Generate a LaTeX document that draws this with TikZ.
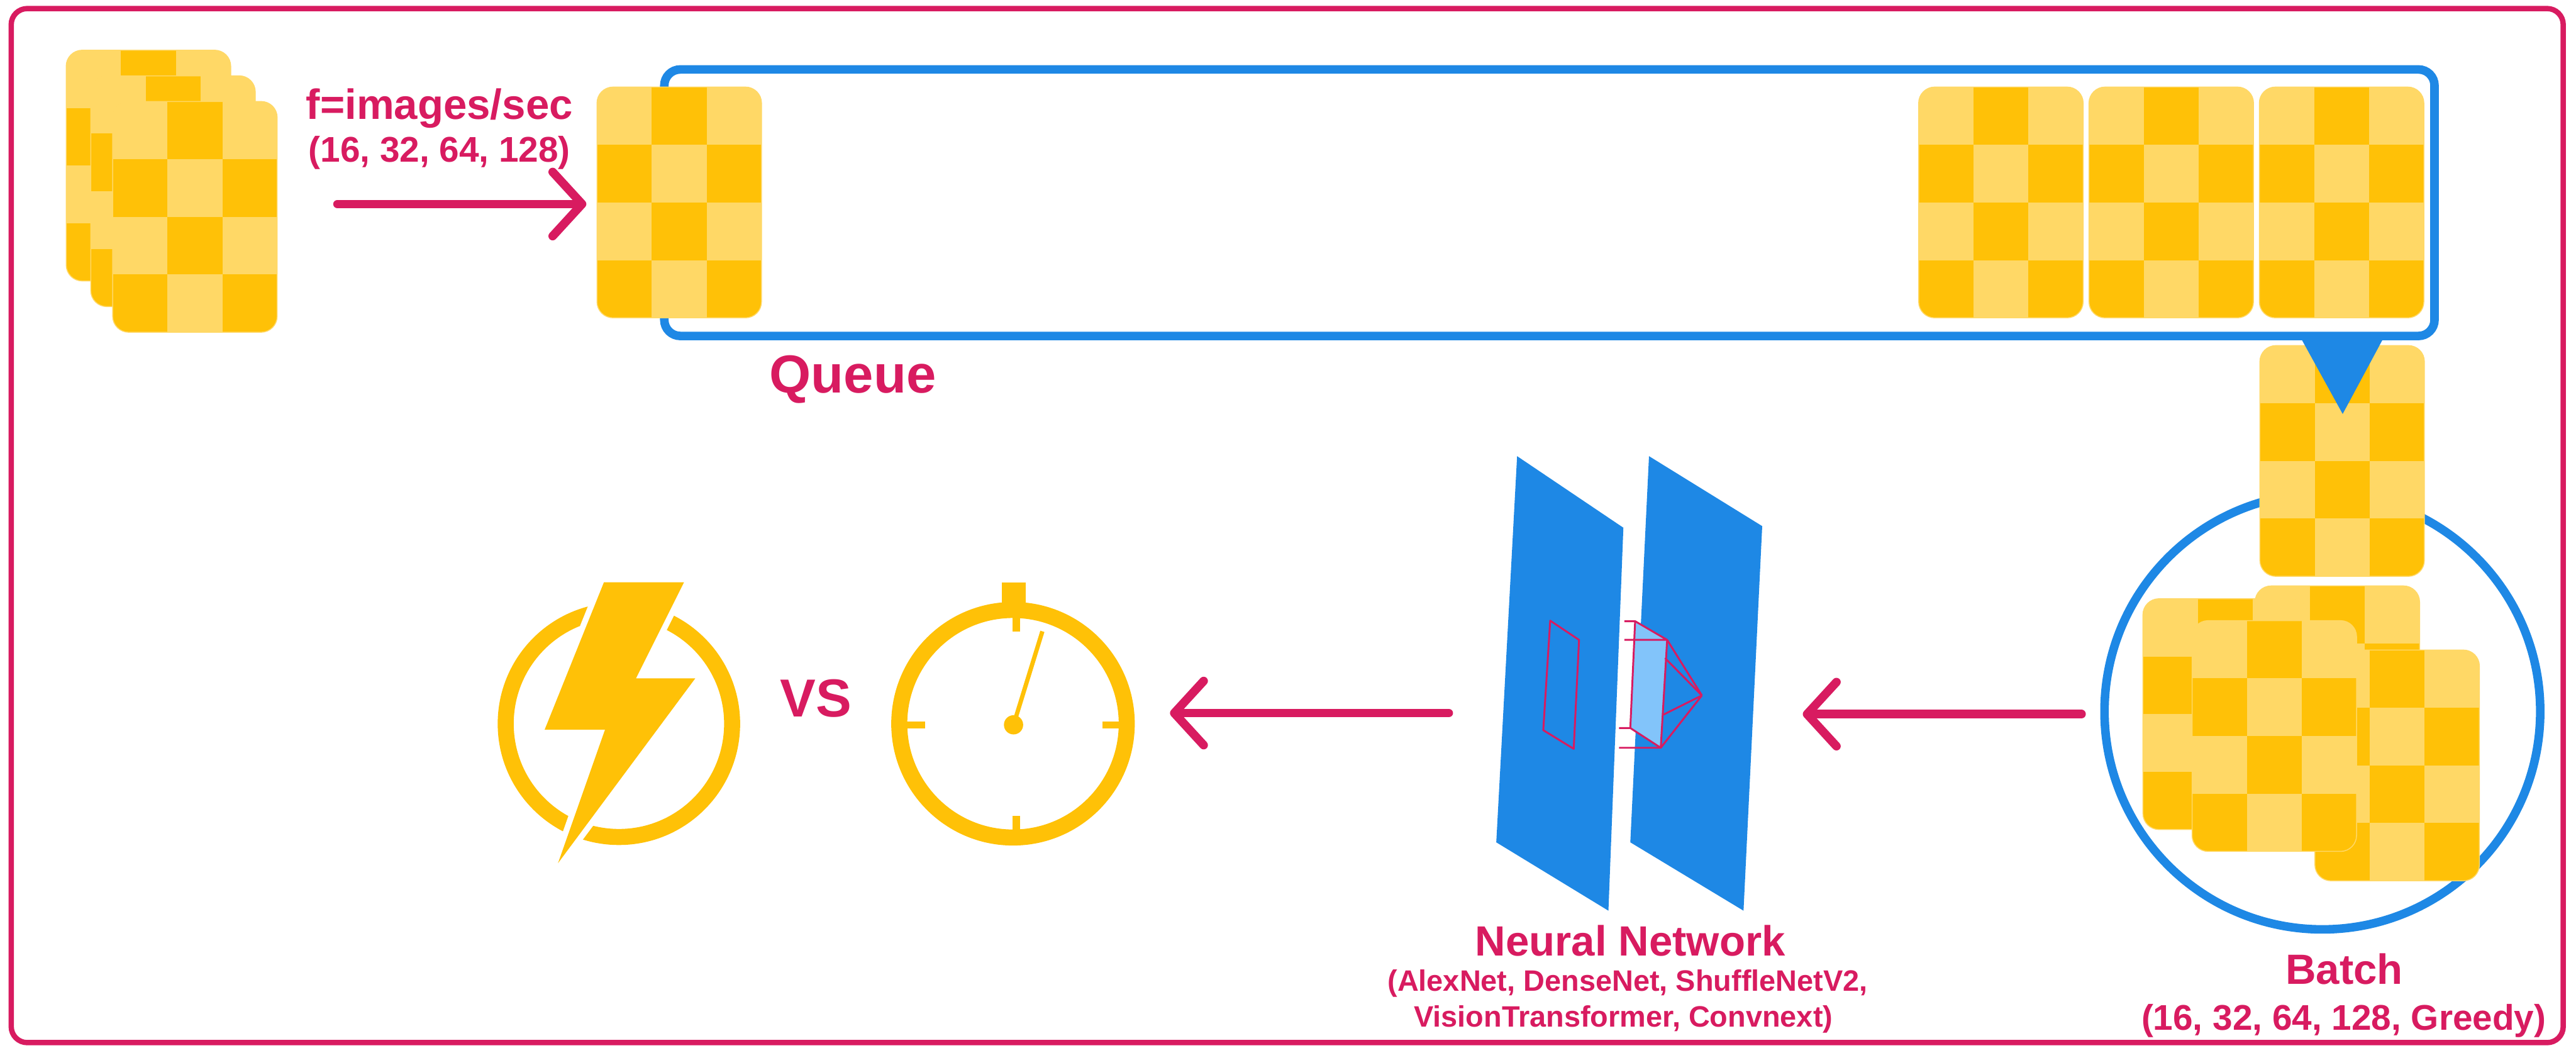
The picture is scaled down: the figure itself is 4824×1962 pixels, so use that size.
\documentclass[tikz,border=0pt]{standalone}
\usepackage{fontspec}
\setmainfont{Liberation Sans}
\usepackage{tikz}
\usetikzlibrary{arrows.meta}
\tikzset{
  txt/.style = {inner sep=0pt, text=my_pink, anchor=base},
  flow/.style = {draw=my_pink, line width=1.6mm, line cap=round,
    -{Straight Barb[length=5.5mm, width=12mm, line cap=round, line join=round]}},
  wire/.style = {draw=my_pink, line width=0.35mm, line join=round},
  ring/.style = {draw=my_amber, line width=3mm}
}
\definecolor{my_amber}{RGB}{255, 193, 7}
\definecolor{my_amber_light}{RGB}{255, 216, 102}
\definecolor{my_blue}{RGB}{30, 136, 229}
\definecolor{my_blue_light}{RGB}{130, 196, 250}
\definecolor{my_pink}{RGB}{216, 27, 96}

% checkered image card: name, top-left x, top-left y
\newcommand{\imgcard}[3]{%
  \coordinate (#1) at (#2,#3);
  \begin{scope}
    \clip[rounded corners=3mm] (#1) rectangle ++(308,432);
    \fill[my_amber] (#1) rectangle ++(308,432);
    \foreach \i/\j in {0/0,2/0,1/1,0/2,2/2,1/3}
      \fill[my_amber_light, shift={(#1)}] (\i*102.67,\j*108) rectangle ++(102.67,108);
  \end{scope}
  \draw[my_amber_light, line width=0.5pt, rounded corners=3mm] (#1) rectangle ++(308,432);
}

\begin{document}
\begin{tikzpicture}[x=0.01cm, y=-0.01cm,
        f_big/.style={font=\bfseries\fontsize{28.5pt}{32pt}\selectfont},
        f_mid/.style={font=\bfseries\fontsize{22.5pt}{26pt}\selectfont},
        f_small/.style={font=\bfseries\fontsize{19pt}{22pt}\selectfont},
        f_tiny/.style={font=\bfseries\fontsize{15.7pt}{19pt}\selectfont}]
  \useasboundingbox (0,0) rectangle (4824,1962);
  \fill[white] (0,0) rectangle (4824,1962);

  % outer frame
  \draw[my_pink, line width=1mm, rounded corners=3mm] (21,16) rectangle (4800,1952);

  % incoming images
  \imgcard{in_a}{124}{94}
  \imgcard{in_b}{170}{142}
  \imgcard{in_c}{211}{190}

  % queue
  \draw[my_blue, line width=1.6mm, rounded corners=3mm] (1244,130) rectangle (4559,629);
  \imgcard{q_first}{1118}{163}
  \imgcard{q_a}{3593}{163}
  \imgcard{q_b}{3912}{163}
  \imgcard{q_c}{4231}{163}

  % batch
  \draw[my_blue, line width=1.6mm] (4349,1332) circle[radius=408];
  \imgcard{q_out}{4232}{647}
  \fill[my_blue] (4306,628) -- (4466,628) -- (4387,775) -- cycle;
  \imgcard{b_back}{4223}{1097}
  \imgcard{b_left}{4013}{1121}
  \imgcard{b_right}{4335}{1217}
  \imgcard{b_front}{4105}{1162}

  % neural network layers
  \fill[my_blue] (2841,854) -- (3040,988) -- (3012,1705) -- (2802,1577) -- cycle;
  \fill[my_blue] (3088,854) -- (3300,985) -- (3265,1705) -- (3053,1577) -- cycle;
  \draw[wire] (2903,1162) -- (2957,1198) -- (2947,1402) -- (2890,1367) -- cycle;
  \fill[my_blue_light] (3062,1163) -- (3122,1198) -- (3110,1400) -- (3053,1363) -- cycle;
  \draw[wire] (3042,1163) -- (3062,1163) -- (3122,1198) -- (3042,1198);
  \draw[wire] (3032,1363) -- (3053,1363) -- (3110,1400) -- (3032,1400);
  \draw[wire] (3062,1163) -- (3053,1363);
  \draw[wire] (3122,1198) -- (3110,1400);
  \coordinate (apex) at (3187,1302);
  \foreach \p in {(3122,1198),(3118,1232),(3115,1338),(3110,1400)}
    \draw[wire] \p -- (apex);

  % energy icon
  \draw[ring] (1159,1355) circle[radius=212];
  \fill[my_amber, preaction={draw=white, line width=2.2mm, line join=round}]
    (1131,1090) -- (1281,1090) -- (1191,1270) -- (1302,1270)
    -- (1045,1616) -- (1133,1366) -- (1020,1366) -- cycle;

  % stopwatch icon
  \draw[ring] (1897,1355) circle[radius=213];
  \fill[my_amber] (1876,1090) rectangle (1921,1135);
  \draw[my_amber, line width=1.3mm] (1698,1357) -- (1732,1357);
  \draw[my_amber, line width=1.3mm] (2065,1357) -- (2099,1357);
  \draw[my_amber, line width=1.4mm] (1903,1150) -- (1903,1182);
  \draw[my_amber, line width=1.4mm] (1903,1528) -- (1903,1556);
  \draw[my_amber, line width=0.8mm] (1898,1357) -- (1952,1182);
  \fill[my_amber] (1898,1357) circle[radius=18];

  % arrows
  \coordinate (in_from) at (632,382);
  \coordinate (in_to) at (1098,382);
  \coordinate (batch_out) at (3898,1337);
  \coordinate (net_in) at (3376,1337);
  \coordinate (net_out) at (2713,1335);
  \coordinate (watch_in) at (2191,1335);
  \draw[flow] (in_from) -- (in_to);
  \draw[flow] (batch_out) -- (net_in);
  \draw[flow] (net_out) -- (watch_in);

  % labels
  \node[txt, f_mid] (rate) at (823,223) {f=images/sec};
  \node[txt, f_small] (rate_vals) at (823,303) {(16, 32, 64, 128)};
  \node[txt, f_big] (queue_lbl) at (1597,736) {Queue};
  \node[txt, f_big] (vs_lbl) at (1528,1342) {VS};
  \node[txt, f_mid] (net_lbl) at (3053,1790) {Neural Network};
  \node[txt, f_tiny] (net_lst_a) at (3048,1855) {(AlexNet, DenseNet, ShuffleNetV2,};
  \node[txt, f_tiny] (net_lst_b) at (3040,1923) {VisionTransformer, Convnext)};
  \node[txt, f_mid] (batch_lbl) at (4390,1843) {Batch};
  \node[txt, f_small] (batch_vals) at (4389,1928) {(16, 32, 64, 128, Greedy)};
\end{tikzpicture}
\end{document}
